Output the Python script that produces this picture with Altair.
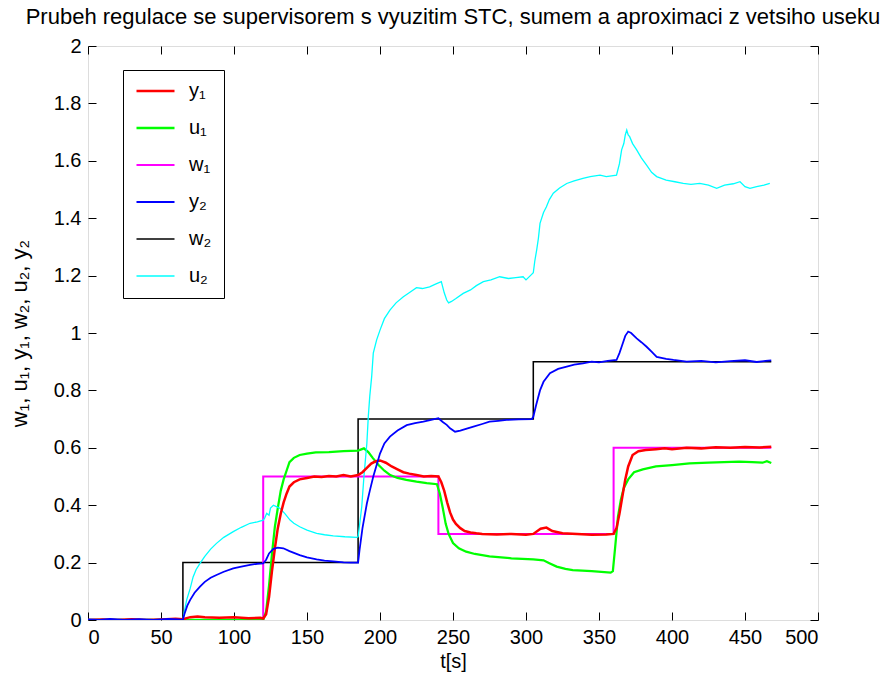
import altair as alt
import pandas as pd

# Series names (legend order), colours and line widths
SERIES = ["y₁", "u₁", "w₁", "y₂", "w₂", "u₂"]
COLORS = ["#ff0000", "#00ff00", "#ff00ff", "#0000ff", "#000000", "#00ffff"]
WIDTHS = [2.5, 1.3, 1.3, 3.2, 1.4, 1.3]
# drawing order, bottom to top
DRAW_ORDER = ["w₂", "w₁", "u₁", "u₂", "y₁", "y₂"]

X_TICKS = [0, 50, 100, 150, 200, 250, 300, 350, 400, 450, 500]
Y_TICKS = [0, 0.2, 0.4, 0.6, 0.8, 1.0, 1.2, 1.4, 1.6, 1.8, 2.0]

# set-points (t [s], value)
W1 = [(0, 0), (120, 0), (120, 0.5), (240, 0.5), (240, 0.3), (360, 0.3), (360, 0.6), (468, 0.6)]
W2 = [(0, 0), (65, 0), (65, 0.2), (185, 0.2), (185, 0.7), (305, 0.7), (305, 0.9), (468, 0.9)]

# plant outputs and control signals (t [s], value)
Y1 = [(0, 0.0), (10, 0.002), (20, 0.0), (30, 0.003), (40, 0.0), (50, 0.002), (60, 0.004),
      (65, 0.003), (70, 0.01), (75, 0.012), (80, 0.01), (90, 0.008), (100, 0.01), (110, 0.006),
      (118, 0.008), (120, 0.005), (122, 0.02), (124, 0.08), (126, 0.17), (128, 0.25),
      (130, 0.32), (132, 0.37), (134, 0.41), (136, 0.44), (138, 0.465), (141, 0.48),
      (145, 0.49), (150, 0.495), (155, 0.5), (160, 0.498), (165, 0.502), (170, 0.5),
      (175, 0.505), (180, 0.5), (185, 0.505), (188, 0.515), (191, 0.53), (194, 0.545),
      (197, 0.553), (200, 0.556), (204, 0.548), (208, 0.535), (212, 0.525), (216, 0.515),
      (220, 0.51), (225, 0.505), (230, 0.5), (235, 0.502), (240, 0.5), (242, 0.48),
      (244, 0.45), (246, 0.41), (248, 0.375), (250, 0.35), (252, 0.335), (255, 0.32),
      (258, 0.31), (262, 0.305), (266, 0.302), (270, 0.3), (280, 0.298), (290, 0.3),
      (300, 0.297), (305, 0.3), (310, 0.318), (314, 0.322), (318, 0.31), (325, 0.302),
      (335, 0.3), (345, 0.297), (355, 0.298), (360, 0.3), (362, 0.32), (364, 0.37),
      (366, 0.43), (368, 0.49), (370, 0.535), (373, 0.575), (377, 0.588), (382, 0.592),
      (389, 0.595), (395, 0.598), (400, 0.595), (410, 0.6), (420, 0.598), (430, 0.602),
      (440, 0.6), (450, 0.603), (460, 0.601), (468, 0.604)]

U1 = [(0, 0.0), (65, 0.0), (120, 0.0), (122, 0.03), (124, 0.12), (126, 0.23), (128, 0.325),
      (130, 0.39), (132, 0.45), (134, 0.49), (136, 0.52), (138, 0.55), (141, 0.565),
      (145, 0.575), (150, 0.58), (156, 0.584), (165, 0.585), (175, 0.588), (185, 0.59),
      (189, 0.598), (192, 0.585), (195, 0.565), (199, 0.54), (203, 0.52), (207, 0.505),
      (212, 0.495), (218, 0.488), (225, 0.482), (232, 0.477), (239, 0.473), (241, 0.44),
      (243, 0.39), (245, 0.335), (247, 0.3), (250, 0.268), (254, 0.25), (259, 0.238),
      (265, 0.23), (275, 0.222), (290, 0.215), (305, 0.211), (312, 0.208), (316, 0.198),
      (321, 0.186), (327, 0.178), (332, 0.174), (345, 0.17), (358, 0.165), (359.5, 0.17),
      (361, 0.25), (363, 0.36), (365, 0.42), (367, 0.46), (370, 0.49), (374, 0.515),
      (380, 0.525), (389, 0.535), (400, 0.54), (412, 0.546), (425, 0.548), (446, 0.552),
      (455, 0.55), (462, 0.548), (465, 0.553), (468, 0.547)]

Y2 = [(0, 0.002), (8, 0.0), (15, 0.004), (25, 0.0), (35, 0.003), (45, 0.0), (55, 0.004),
      (62, 0.002), (65, 0.0), (66, 0.02), (68, 0.05), (70, 0.07), (73, 0.095), (76.7, 0.116),
      (80, 0.133), (84, 0.147), (88, 0.157), (93, 0.168), (99.5, 0.18), (105, 0.186),
      (111, 0.192), (116, 0.196), (120, 0.197), (122, 0.21), (124, 0.232), (127, 0.248),
      (130, 0.252), (133.8, 0.25), (138, 0.24), (145, 0.226), (150, 0.218), (156.6, 0.211),
      (162, 0.207), (168, 0.204), (175, 0.201), (180, 0.2), (185, 0.2), (186, 0.244),
      (188, 0.32), (191, 0.406), (193, 0.45), (195.4, 0.5), (198, 0.545), (200, 0.58),
      (203, 0.615), (206.8, 0.639), (212, 0.66), (218.3, 0.679), (224, 0.686), (229.7, 0.691),
      (235, 0.697), (240, 0.703), (243, 0.69), (245.7, 0.68), (248, 0.668), (251.4, 0.656),
      (255, 0.66), (260, 0.668), (264, 0.674), (270, 0.683), (275, 0.691), (281, 0.694),
      (286.8, 0.697), (295, 0.699), (304, 0.7), (305, 0.708), (307, 0.75), (309.6, 0.8),
      (312, 0.83), (316.4, 0.86), (322, 0.875), (327.9, 0.883), (333, 0.89), (339, 0.894),
      (345, 0.9), (350, 0.898), (356, 0.903), (362, 0.906), (364, 0.93), (365.5, 0.952),
      (368, 0.99), (370, 1.005), (372, 1.0), (375.8, 0.981), (379, 0.968), (382.6, 0.952),
      (386, 0.935), (389.5, 0.917), (396, 0.91), (401, 0.906), (410, 0.9), (420, 0.903),
      (430, 0.898), (440, 0.902), (450, 0.905), (458, 0.899), (464, 0.903), (468, 0.905)]

U2 = [(0, 0.0), (10, 0.002), (20, 0.0), (30, 0.002), (40, 0.0), (50, 0.002), (60, 0.0),
      (65, 0.0), (66, 0.03), (67.6, 0.07), (70, 0.11), (72, 0.15), (74, 0.175), (76.7, 0.197),
      (80, 0.222), (84, 0.247), (88, 0.267), (93, 0.288), (99.5, 0.308), (105, 0.323),
      (111, 0.337), (116, 0.342), (120, 0.348), (121, 0.355), (122.4, 0.372), (124, 0.365),
      (125, 0.39), (127, 0.4), (129, 0.395), (131.5, 0.389), (135, 0.37), (138.4, 0.348),
      (141, 0.337), (145, 0.325), (150, 0.313), (156.6, 0.302), (162, 0.297), (168, 0.293),
      (176, 0.29), (184, 0.288), (185, 0.29), (186, 0.33), (187.5, 0.395), (189, 0.5),
      (191, 0.616), (192, 0.71), (193, 0.78), (194.3, 0.848), (195.4, 0.93), (197.7, 0.976),
      (200, 1.01), (203, 1.05), (206.8, 1.08), (211, 1.105), (216, 1.126), (220, 1.14),
      (225, 1.158), (229, 1.155), (234, 1.161), (238, 1.17), (242, 1.179), (244, 1.14),
      (245.7, 1.115), (247, 1.105), (249, 1.11), (252, 1.12), (257, 1.138), (262, 1.15),
      (266, 1.165), (270.8, 1.179), (276, 1.185), (282, 1.196), (288, 1.19), (293, 1.193),
      (298, 1.196), (300, 1.185), (303, 1.2), (305, 1.21), (306, 1.25), (307.3, 1.289),
      (308.5, 1.33), (309.6, 1.382), (312, 1.42), (314, 1.44), (316, 1.465), (318.7, 1.487),
      (323, 1.505), (327.9, 1.521), (333, 1.53), (339, 1.539), (344, 1.545), (350.7, 1.55),
      (355, 1.545), (362, 1.55), (364, 1.59), (365.5, 1.638), (367, 1.66), (368, 1.69),
      (369, 1.707), (370, 1.69), (371, 1.684), (373, 1.66), (375.8, 1.638), (379, 1.61),
      (382.6, 1.585), (386, 1.56), (389.5, 1.545), (396, 1.533), (402, 1.527), (407.7, 1.521),
      (413, 1.518), (419, 1.521), (425, 1.515), (430.6, 1.504), (436, 1.515), (442, 1.52),
      (446.6, 1.527), (450, 1.51), (453.4, 1.504), (458, 1.51), (463, 1.515), (467, 1.521)]

POINTS = {"y₁": Y1, "u₁": U1, "w₁": W1, "y₂": Y2, "w₂": W2, "u₂": U2}

rows = []
for name in DRAW_ORDER:
    for i, (t, v) in enumerate(POINTS[name]):
        rows.append({"series": name, "t": t, "v": v, "i": i})
df = pd.DataFrame(rows)

FONT = "Liberation Sans"
PLOT_W, PLOT_H = 730, 574

x_scale = alt.Scale(domain=[0, 500], nice=False, zero=False)
y_scale = alt.Scale(domain=[0, 2], nice=False, zero=False)

lines = alt.Chart(df).mark_line(clip=True).encode(
    x=alt.X("t:Q", scale=x_scale,
            axis=alt.Axis(values=X_TICKS, format="d", tickSize=0, domain=False, grid=False,
                          labelPadding=7, labelFontSize=20, labelFont=FONT, labelColor="black",
                          title="t[s]", titleFont=FONT, titleFontSize=20, titleFontWeight="normal",
                          titleColor="black", titlePadding=4)),
    y=alt.Y("v:Q", scale=y_scale,
            axis=alt.Axis(values=Y_TICKS, format="~g", tickSize=0, domain=False, grid=False,
                          labelPadding=7, labelFontSize=20, labelFont=FONT, labelColor="black",
                          title="w₁, u₁, y₁, w₂, u₂, y₂", titleFont=FONT, titleFontSize=22,
                          titleFontWeight="normal", titleColor="black", titlePadding=22)),
    color=alt.Color("series:N", scale=alt.Scale(domain=SERIES, range=COLORS),
                    legend=alt.Legend(title=None, orient="none", legendX=35, legendY=24,
                                      strokeColor="black", fillColor="white", padding=12,
                                      symbolType="stroke", symbolSize=1444, symbolStrokeWidth=1.5,
                                      clipHeight=18, rowPadding=17, labelOffset=13,
                                      labelFontSize=20, labelFont=FONT, labelColor="black")),
    strokeWidth=alt.StrokeWidth("series:N", scale=alt.Scale(domain=SERIES, range=WIDTHS),
                                legend=None),
    order="i:Q",
)

# inward-pointing ticks on all four sides of the box
frame = pd.DataFrame({"t": [0, 500], "v": [0, 2]})
tick_style = dict(labels=False, domain=False, grid=False, title=None, tickSize=8,
                  tickColor="black", tickWidth=1)

ticks_a = alt.Chart(frame).mark_point(opacity=0).encode(
    x=alt.X("t:Q", scale=x_scale, axis=alt.Axis(orient="top", offset=-PLOT_H, values=X_TICKS, **tick_style)),
    y=alt.Y("v:Q", scale=y_scale, axis=alt.Axis(orient="right", offset=-PLOT_W, values=Y_TICKS, **tick_style)),
)
ticks_b = alt.Chart(frame).mark_point(opacity=0).encode(
    x=alt.X("t:Q", scale=x_scale, axis=alt.Axis(orient="bottom", offset=-PLOT_H, values=X_TICKS, **tick_style)),
    y=alt.Y("v:Q", scale=y_scale, axis=alt.Axis(orient="left", offset=-PLOT_W, values=Y_TICKS, **tick_style)),
)

chart = alt.layer(ticks_a, ticks_b, lines).resolve_scale(
    x="independent", y="independent"
).properties(
    width=PLOT_W,
    height=PLOT_H,
    title=alt.TitleParams(
        text="Prubeh regulace se supervisorem s vyuzitim STC, sumem a aproximaci z vetsiho useku",
        font=FONT, fontSize=22, fontWeight="normal", color="black",
        anchor="middle", frame="group", offset=7,
    ),
    autosize=alt.AutoSizeParams(type="none"),
    padding={"left": 88, "top": 46, "right": 63, "bottom": 62},
).configure_view(
    stroke="black", strokeWidth=1.2
).configure(background="white")

chart.save("out.html", embed_options={"renderer": "svg", "actions": False})
